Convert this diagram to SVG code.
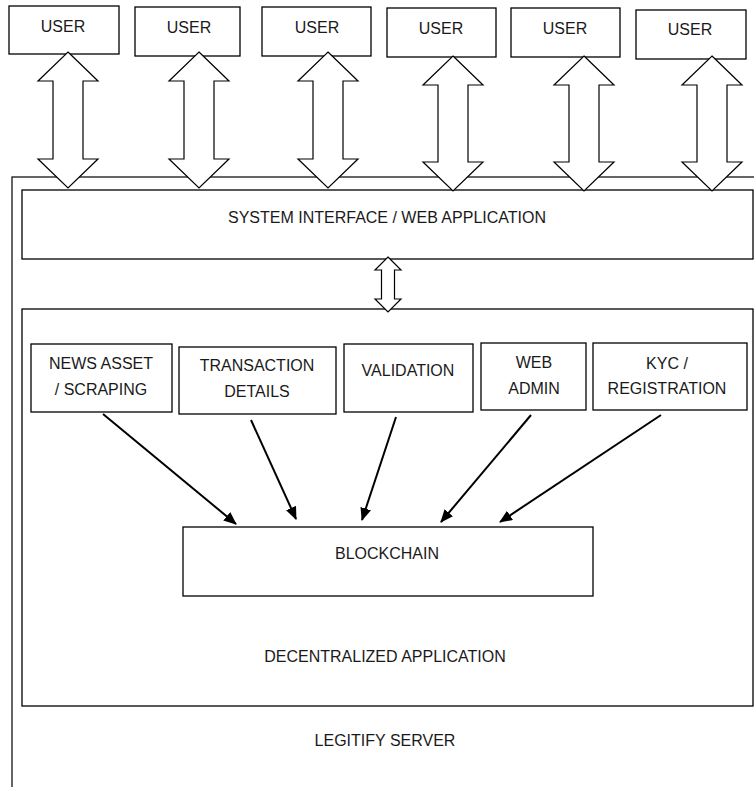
<svg xmlns="http://www.w3.org/2000/svg" width="754" height="787" viewBox="0 0 754 787">
  <style>
    .box { fill: #ffffff; stroke: #000000; stroke-width: 1.3; }
    .frame { fill: none; stroke: #000000; stroke-width: 1.2; }
    .block { fill: #ffffff; stroke: #000000; stroke-width: 1.2; stroke-linejoin: miter; }
    .lbl { font-family: "Liberation Sans", Arial, sans-serif; font-size: 16px; fill: #1a1a1a; text-anchor: middle; dominant-baseline: central; }
    .flow { stroke: #000000; stroke-width: 2; fill: none; marker-end: url(#head); }
  </style>
  <defs>
    <marker id="head" viewBox="0 0 13 11" refX="12" refY="5.5" markerWidth="13" markerHeight="11" markerUnits="userSpaceOnUse" orient="auto">
      <path d="M0,0 L13,5.5 L0,11 Z" fill="#000000"/>
    </marker>
  </defs>

  <rect width="754" height="787" fill="#ffffff"/>

  <!-- Server frame (runs off the canvas right and bottom) -->
  <g id="legitify-server">
    <rect class="frame" x="12" y="177" width="800" height="700"/>
    <text class="lbl" x="385" y="740">LEGITIFY SERVER</text>
  </g>

  <!-- Users -->
  <g id="user-1"><rect class="box" x="9" y="6" width="110" height="48"/><text class="lbl" x="63" y="26">USER</text></g>
  <g id="user-2"><rect class="box" x="135" y="7" width="105" height="49"/><text class="lbl" x="189" y="27">USER</text></g>
  <g id="user-3"><rect class="box" x="262" y="7" width="109" height="49"/><text class="lbl" x="317" y="27">USER</text></g>
  <g id="user-4"><rect class="box" x="387" y="8" width="109" height="49"/><text class="lbl" x="441" y="28">USER</text></g>
  <g id="user-5"><rect class="box" x="511" y="8" width="109" height="49"/><text class="lbl" x="565" y="28">USER</text></g>
  <g id="user-6"><rect class="box" x="636" y="10" width="110" height="49"/><text class="lbl" x="690" y="29">USER</text></g>

  <!-- System interface -->
  <g id="system-interface">
    <rect class="box" x="22" y="190" width="731" height="69"/>
    <text class="lbl" x="387" y="217">SYSTEM INTERFACE / WEB APPLICATION</text>
  </g>

  <!-- Decentralized application -->
  <g id="dapp">
    <rect class="box" x="22" y="309" width="731" height="397"/>
    <text class="lbl" x="385" y="656">DECENTRALIZED APPLICATION</text>
  </g>

  <g id="news-asset">
    <rect class="box" x="31" y="344" width="141" height="68"/>
    <text class="lbl" x="101" y="363">NEWS ASSET</text>
    <text class="lbl" x="101" y="389">/ SCRAPING</text>
  </g>
  <g id="transaction-details">
    <rect class="box" x="179" y="347" width="157" height="67"/>
    <text class="lbl" x="257" y="365">TRANSACTION</text>
    <text class="lbl" x="257" y="391">DETAILS</text>
  </g>
  <g id="validation">
    <rect class="box" x="344" y="344" width="129" height="68"/>
    <text class="lbl" x="408" y="370">VALIDATION</text>
  </g>
  <g id="web-admin">
    <rect class="box" x="481" y="343" width="105" height="67"/>
    <text class="lbl" x="534" y="362">WEB</text>
    <text class="lbl" x="534" y="388">ADMIN</text>
  </g>
  <g id="kyc-registration">
    <rect class="box" x="593" y="343" width="154" height="67"/>
    <text class="lbl" x="667" y="363">KYC /</text>
    <text class="lbl" x="667" y="388">REGISTRATION</text>
  </g>

  <g id="blockchain">
    <rect class="box" x="183" y="527" width="410" height="69"/>
    <text class="lbl" x="387" y="553">BLOCKCHAIN</text>
  </g>

  <!-- Connectors -->
  <g id="connectors">
    <!-- two-way block arrows between users and the interface -->
    <polygon class="block" points="68,52 98,81 83,81 83,159 98,159 68,188 38,159 53,159 53,81 38,81"/>
    <polygon class="block" points="199,52 229,81 214,81 214,159 229,159 199,188 169,159 184,159 184,81 169,81"/>
    <polygon class="block" points="328,52 358,81 343,81 343,159 358,159 328,188 298,159 313,159 313,81 298,81"/>
    <polygon class="block" points="453,56 483,85 468,85 468,162 483,162 453,191 423,162 438,162 438,85 423,85"/>
    <polygon class="block" points="584,56 614,85 599,85 599,162 614,162 584,191 554,162 569,162 569,85 554,85"/>
    <polygon class="block" points="712,56 742,85 727,85 727,162 742,162 712,191 682,162 697,162 697,85 682,85"/>
    <!-- interface to dapp -->
    <polygon class="block" points="388,257 401,270 394.5,270 394.5,299 401,299 388,312 375,299 381.5,299 381.5,270 375,270"/>
    <!-- modules to blockchain -->
    <line class="flow" x1="103" y1="414" x2="236" y2="524"/>
    <line class="flow" x1="251" y1="420" x2="296" y2="519"/>
    <line class="flow" x1="396" y1="417" x2="362" y2="520"/>
    <line class="flow" x1="531" y1="415" x2="441" y2="522"/>
    <line class="flow" x1="661" y1="415" x2="500" y2="522"/>
  </g>
</svg>
